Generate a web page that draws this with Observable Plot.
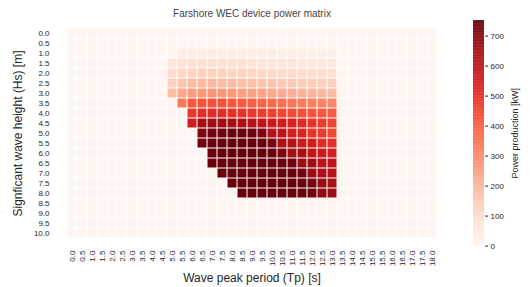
<!DOCTYPE html>
<html><head><meta charset="utf-8">
<script src="https://cdn.jsdelivr.net/npm/d3@7"></script>
<script src="https://cdn.jsdelivr.net/npm/@observablehq/plot@0.6"></script>
<style>
body{margin:0;background:#fff;}
#chart{position:relative;width:532px;height:287px;overflow:hidden;font-family:"Liberation Sans",Arial,sans-serif;}
#chart svg{position:absolute;left:0;top:0;}
</style></head><body><div id="chart"></div>
<script>
const titleText = "Farshore WEC device power matrix";
const xTitle = "Wave peak period (Tp) [s]";
const yTitle = "Signficant wave height (Hs) [m]";
const cbTitle = "Power production [kW]";

const tpLabels = ["0.0","0.5","1.0","1.5","2.0","2.5","3.0","3.5","4.0","4.5","5.0","5.5","6.0","6.5","7.0","7.5","8.0","8.5","9.0","9.5","10.0","10.5","11.0","11.5","12.0","12.5","13.0","13.5","14.0","14.5","15.0","15.5","16.0","16.5","17.0","17.5","18.0"];
const hsLabels = ["0.0","0.5","1.0","1.5","2.0","2.5","3.0","3.5","4.0","4.5","5.0","5.5","6.0","6.5","7.0","7.5","8.0","8.5","9.0","9.5","10.0"];
const colorTicks = [0,100,200,300,400,500,600,700];

// Columns of the non-zero block: Tp 5.0 .. 13.0
const dataTp = ["5.0","5.5","6.0","6.5","7.0","7.5","8.0","8.5","9.0","9.5","10.0","10.5","11.0","11.5","12.0","12.5","13.0"];
const hs1_0 = [0,36,40,42,42,41,40,38,37,35,34,32,31,30,28,27,26];
const hs1_5 = [60,75,82,85,85,83,81,78,75,72,69,66,63,61,58,56,54];
const hs2_0 = [95,115,125,130,130,128,125,121,117,113,109,105,101,97,94,91,88];
const hs2_5 = [130,165,183,190,192,189,185,180,174,168,162,156,150,145,140,135,130];
const hs3_0 = [180,235,262,272,275,270,264,256,248,240,232,224,216,208,200,193,186];
const hs3_5 = [0,340,410,425,428,422,415,405,395,384,372,360,348,336,325,315,305];
const hs4_0 = [0,0,480,505,510,505,498,490,480,470,460,450,440,430,420,410,400];
const hs4_5 = [0,0,555,640,660,660,650,635,615,595,575,555,535,515,495,475,455];
const hs5_0 = [0,0,0,715,730,740,745,745,740,720,620,600,545,530,490,470,450];
const hs5_5 = [0,0,0,730,745,750,752,752,752,745,720,630,620,565,555,510,500];
const hs6_0 = [0,0,0,0,745,752,752,752,752,752,745,720,650,640,590,570,550];
const hs6_5 = [0,0,0,0,748,752,752,752,752,752,752,750,740,665,655,605,595];
const hs7_0 = [0,0,0,0,0,750,752,752,752,752,752,752,750,735,665,640,620];
const hs7_5 = [0,0,0,0,0,0,752,752,752,752,752,752,752,750,730,675,645];
const hs8_0 = [0,0,0,0,0,0,0,752,752,752,752,752,752,750,735,690,665];

const rowsByHs = {"1.0":hs1_0,"1.5":hs1_5,"2.0":hs2_0,"2.5":hs2_5,"3.0":hs3_0,"3.5":hs3_5,"4.0":hs4_0,"4.5":hs4_5,"5.0":hs5_0,"5.5":hs5_5,"6.0":hs6_0,"6.5":hs6_5,"7.0":hs7_0,"7.5":hs7_5,"8.0":hs8_0};

const cells = [];
for (const hs of hsLabels) {
  for (const tp of tpLabels) {
    const row = rowsByHs[hs];
    const k = dataTp.indexOf(tp);
    const v = row && k >= 0 ? row[k] : 0;
    cells.push({hs, tp, v});
  }
}

const vmax = 752;
const font = "'Liberation Sans', Arial, sans-serif";
const colorOpt = {type: "linear", scheme: "reds", domain: [0, vmax]};

const main = Plot.plot({
  width: 532, height: 287,
  marginLeft: 55, marginRight: 84, marginTop: 20, marginBottom: 41,
  style: {fontFamily: font, fontSize: "8px", color: "#262626", background: "transparent"},
  x: {type: "band", domain: tpLabels, padding: 0, label: null, tickRotate: -90, tickSize: 0, tickPadding: 4},
  y: {type: "band", domain: hsLabels, padding: 0, label: null, tickSize: 0, tickPadding: 6},
  color: colorOpt,
  marks: [
    Plot.cell(cells, {x: "tp", y: "hs", fill: "v", inset: 0.5}),
    Plot.text([titleText], {frameAnchor: "top", dy: -11, fontSize: 10, fill: "#444"}),
    Plot.text([xTitle], {frameAnchor: "bottom", dy: 35, fontSize: 12, fill: "#262626"}),
    Plot.text([yTitle], {frameAnchor: "left", textAnchor: "middle", dx: -37, rotate: -90, fontSize: 12, fill: "#262626"})
  ]
});

const grad = d3.range(0, vmax, 2);
const cbar = Plot.plot({
  width: 532, height: 287,
  marginLeft: 473, marginRight: 48, marginTop: 20, marginBottom: 41.4,
  style: {fontFamily: font, fontSize: "8px", color: "#262626", background: "transparent"},
  x: {domain: [0, 1], axis: null},
  y: {domain: [0, vmax], axis: null},
  color: colorOpt,
  marks: [
    Plot.rect(grad, {x1: () => 0, x2: () => 1, y1: d => d, y2: d => Math.min(vmax, d + 3), fill: d => d}),
    Plot.axisY({anchor: "right", ticks: colorTicks, tickSize: 3, tickPadding: 3, label: null, tickFormat: d => String(d)}),
    Plot.text([cbTitle], {frameAnchor: "right", textAnchor: "middle", dx: 31, rotate: -90, fontSize: 9, fill: "#262626"})
  ]
});

const el = document.getElementById("chart");
el.appendChild(main);
el.appendChild(cbar);
</script>
</body></html>
